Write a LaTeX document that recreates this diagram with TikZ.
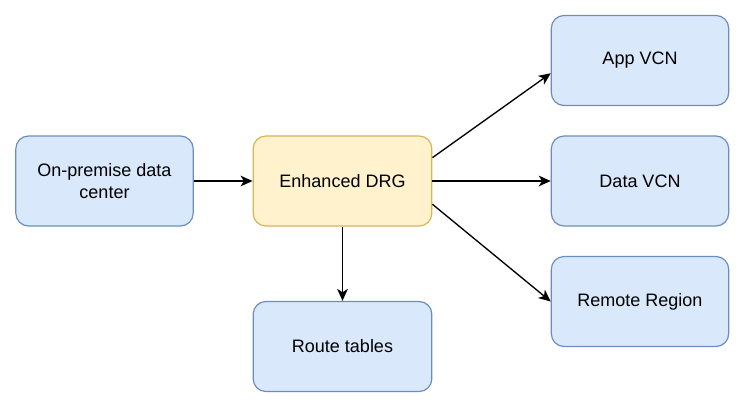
\documentclass[tikz,border=0pt]{standalone}
\usepackage{fontspec}
\setmainfont{Liberation Sans}
\usetikzlibrary{arrows.meta,calc}
\definecolor{bfill}{HTML}{DAE8FC}
\definecolor{bline}{HTML}{6C8EBF}
\definecolor{yfill}{HTML}{FFF2CC}
\definecolor{yline}{HTML}{D6B656}
\tikzset{
  box/.style={rectangle, rounded corners=9.5pt, minimum width=133pt, minimum height=67.5pt,
    align=center, font=\fontsize{13.5pt}{16pt}\selectfont, line width=0.9pt, inner sep=0pt},
  bluebox/.style={box, fill=bfill, draw=bline},
  yellowbox/.style={box, fill=yfill, draw=yline},
  conn/.style={-{Stealth[length=9pt,width=8pt,inset=2.5pt]}, line width=1pt, black}
}
\begin{document}
\begin{tikzpicture}[x=0.75pt,y=-0.75pt]
\useasboundingbox (0,0) rectangle (745,408);
\node[bluebox] (onprem) at (104.5,181) {On-premise data\\center};
\node[yellowbox, minimum width=134pt] (drg) at (342.5,181) {Enhanced DRG};
\node[bluebox] (app) at (640,60.5) {App VCN};
\node[bluebox] (data) at (640,181) {Data VCN};
\node[bluebox] (remote) at (640,301.5) {Remote Region};
\node[bluebox, minimum width=134pt] (route) at (342.5,346.5) {Route tables};
\draw[conn] (onprem) -- (drg);
\draw[conn] (drg) -- (data);
\draw[conn] ($(drg.north east)!0.244!(drg.south east)$) -- ($(app.north west)!0.64!(app.south west)$);
\draw[conn] ($(drg.north east)!0.755!(drg.south east)$) -- (remote.west);
\draw[conn] (drg) -- (route);
\end{tikzpicture}
\end{document}
